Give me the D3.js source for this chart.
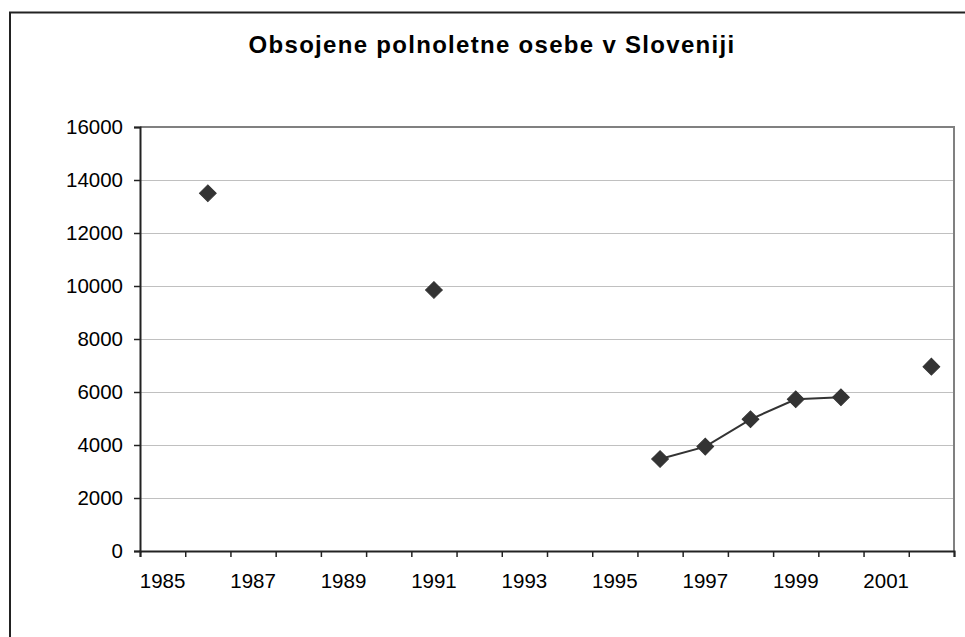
<!DOCTYPE html>
<html>
<head>
<meta charset="utf-8">
<script src="https://cdn.jsdelivr.net/npm/d3@7"></script>
<style>
  html, body { margin: 0; padding: 0; background: #fff; }
  svg { display: block; }
  text { font-family: "Liberation Sans", Arial, sans-serif; fill: #000; }
</style>
</head>
<body>
<svg id="chart" width="965" height="637"></svg>
<script>
const title = "Obsojene polnoletne osebe v Sloveniji";
const years = [1985, 1986, 1987, 1988, 1989, 1990, 1991, 1992, 1993, 1994, 1995, 1996, 1997, 1998, 1999, 2000, 2001, 2002];
const values = [null, 13500, null, null, null, null, 9850, null, null, null, null, 3470, 3940, 4970, 5725, 5800, null, 6955];
const yTicks = [0, 2000, 4000, 6000, 8000, 10000, 12000, 14000, 16000];
const xLabelYears = [1985, 1987, 1989, 1991, 1993, 1995, 1997, 1999, 2001];

const svg = d3.select("#chart");
const W = 965, H = 637;
const plot = { left: 140, right: 954, top: 127, bottom: 551 };

// outer chart border (extends beyond right/bottom edge)
svg.append("path")
  .attr("d", `M10,${H + 5} L10,12.5 L${W + 5},12.5`)
  .attr("fill", "none").attr("stroke", "#222").attr("stroke-width", 2);

// title
svg.append("text")
  .attr("x", 492).attr("y", 53)
  .attr("text-anchor", "middle")
  .attr("font-weight", "bold")
  .attr("font-size", "24px")
  .attr("letter-spacing", "1.3px")
  .text(title);

const x = d3.scaleBand().domain(years).range([plot.left, plot.right]).padding(0);
const xEdge = d3.scaleLinear().domain([years[0], years[years.length - 1] + 1]).range([plot.left, plot.right]);
const y = d3.scaleLinear().domain([0, 16000]).range([plot.bottom, plot.top]);

// gridlines
svg.append("g").selectAll("line")
  .data(yTicks.filter(d => d > 0 && d < 16000))
  .join("line")
  .attr("x1", plot.left).attr("x2", plot.right)
  .attr("y1", d => Math.round(y(d)) + 0.5).attr("y2", d => Math.round(y(d)) + 0.5)
  .attr("stroke", "#c0c0c0").attr("stroke-width", 1.2);

// plot top/right border
svg.append("path")
  .attr("d", `M${plot.left},${plot.top} L${plot.right},${plot.top} L${plot.right},${plot.bottom}`)
  .attr("fill", "none").attr("stroke", "#808080").attr("stroke-width", 2);

// y axis
const yAxis = svg.append("g")
  .attr("transform", `translate(${plot.left},0)`)
  .call(d3.axisLeft(y).tickValues(yTicks).tickSize(6).tickPadding(11).tickFormat(d3.format("d")));
yAxis.select(".domain").attr("stroke", "#222").attr("stroke-width", 2);
yAxis.selectAll(".tick line").attr("stroke", "#222").attr("stroke-width", 1.5);
yAxis.selectAll("text").attr("font-size", "20.5px").attr("fill", "#000")
  .style("font-family", '"Liberation Sans", Arial, sans-serif');

// x axis tick marks at category boundaries
const xTicks = svg.append("g")
  .attr("transform", `translate(0,${plot.bottom})`)
  .call(d3.axisBottom(xEdge).tickValues(d3.range(years[0], years[years.length - 1] + 2)).tickSize(6).tickFormat(""));
xTicks.select(".domain").attr("stroke", "#222").attr("stroke-width", 2);
xTicks.selectAll(".tick line").attr("stroke", "#222").attr("stroke-width", 1.5);

// x labels at category centers
const xLab = svg.append("g")
  .attr("transform", `translate(0,${plot.bottom})`)
  .call(d3.axisBottom(x).tickValues(xLabelYears).tickSize(0).tickPadding(22));
xLab.select(".domain").remove();
xLab.selectAll("text").attr("font-size", "20.5px").attr("fill", "#000")
  .style("font-family", '"Liberation Sans", Arial, sans-serif');

// line with gaps
const pts = years.map((yr, i) => ({ yr, v: values[i] }));
const line = d3.line()
  .defined(d => d.v != null)
  .x(d => x(d.yr) + x.bandwidth() / 2)
  .y(d => y(d.v));
svg.append("path")
  .datum(pts)
  .attr("d", line)
  .attr("fill", "none").attr("stroke", "#333").attr("stroke-width", 2);

// diamond markers
const sym = d3.symbol().type(d3.symbolSquare).size(140);
svg.append("g").selectAll("path")
  .data(pts.filter(d => d.v != null))
  .join("path")
  .attr("d", sym)
  .attr("transform", d => `translate(${x(d.yr) + x.bandwidth() / 2},${y(d.v)}) rotate(45)`)
  .attr("fill", "#333").attr("stroke", "#333").attr("stroke-width", 1);
</script>
</body>
</html>
